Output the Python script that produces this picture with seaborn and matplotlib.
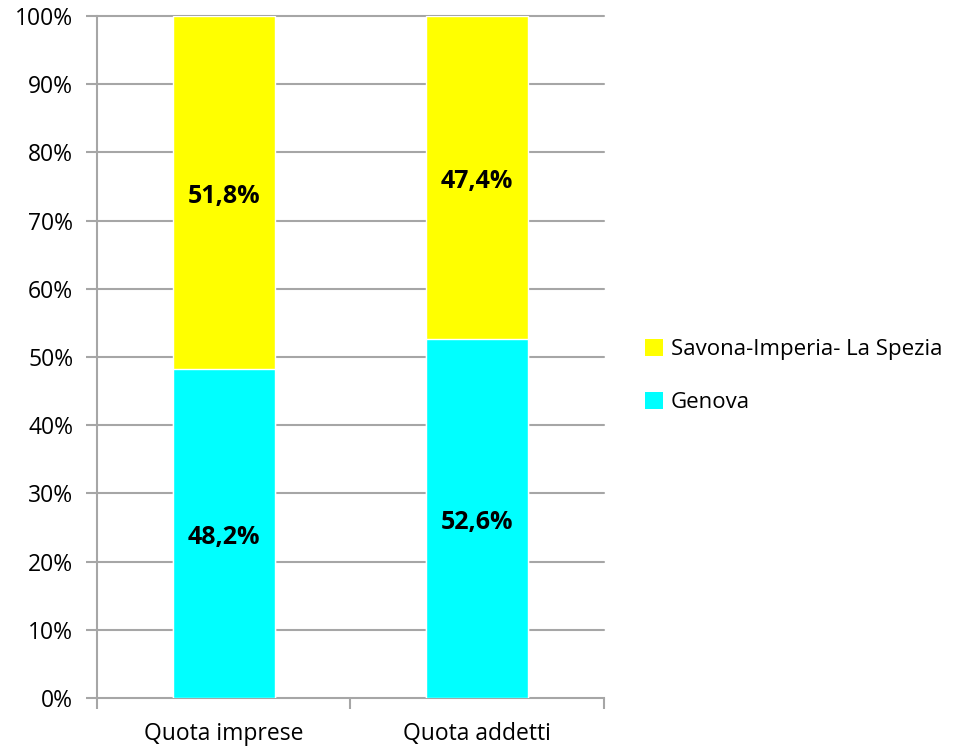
import matplotlib
matplotlib.use("Agg")
import matplotlib.pyplot as plt
import seaborn as sns
import pandas as pd
from matplotlib.patches import Patch

categories = ["Quota imprese", "Quota addetti"]
genova = [48.2, 52.6]
savona = [51.8, 47.4]
genova_labels = ["48,2%", "52,6%"]
savona_labels = ["51,8%", "47,4%"]
series_names = ["Savona-Imperia- La Spezia", "Genova"]
yticks = list(range(0, 101, 10))

sns.set_theme(style="white")
plt.rcParams['font.family'] = ['Open Sans', 'DejaVu Sans']

df = pd.DataFrame({"cat": categories, "genova": genova, "savona": savona})
df["total"] = df["genova"] + df["savona"]

fig = plt.figure(figsize=(9.59, 7.49), dpi=100)
ax = fig.add_axes([0.1011, 0.068, 0.5287, 0.9106])

yellow = "#FFFF00"
cyan = "#00FFFF"
grid_c = "#A6A6A6"

sns.barplot(data=df, x="cat", y="total", color=yellow, saturation=1, width=0.403, ax=ax, zorder=3)
sns.barplot(data=df, x="cat", y="genova", color=cyan, saturation=1, width=0.403, ax=ax, zorder=3)

ax.set_xlim(-0.5, 1.5)
ax.set_ylim(0, 100)
ax.set_yticks(yticks)
ax.set_yticklabels([f"{t}%" for t in yticks], fontsize=16.5, color="black")
ax.set_xticks([0, 1])
ax.set_xticklabels(categories, fontsize=16.5, color="black")
ax.set_xlabel("")
ax.set_ylabel("")

for y in yticks[1:]:
    ax.axhline(y, color=grid_c, lw=1.5, zorder=1, clip_on=False)

for s in ["top", "right"]:
    ax.spines[s].set_visible(False)
for s in ["left", "bottom"]:
    ax.spines[s].set_color(grid_c)
    ax.spines[s].set_linewidth(1.5)

ax.tick_params(axis="y", which="both", left=True, length=8, width=1.5, color=grid_c, pad=9)
ax.tick_params(axis="x", which="major", bottom=False, pad=11)
ax.set_xticks([-0.5, 0.5, 1.5], minor=True)
ax.tick_params(axis="x", which="minor", bottom=True, length=8, width=1.5, color=grid_c)

for i in range(len(categories)):
    ax.text(i, genova[i] / 2 - 0.6, genova_labels[i], ha="center", va="center",
            fontsize=18, fontweight="bold", color="black", zorder=5)
    ax.text(i, genova[i] + savona[i] / 2 - 0.6, savona_labels[i], ha="center", va="center",
            fontsize=18, fontweight="bold", color="black", zorder=5)

handles = [Patch(facecolor=yellow, edgecolor="none"), Patch(facecolor=cyan, edgecolor="none")]
fig.legend(handles, series_names, loc="center left", bbox_to_anchor=(0.673, 0.498),
           frameon=False, fontsize=16, handlelength=0.8, handleheight=0.8,
           handletextpad=0.35, labelspacing=1.45, borderpad=0, borderaxespad=0,
           labelcolor="black")

fig.savefig("out.png", dpi=100)
